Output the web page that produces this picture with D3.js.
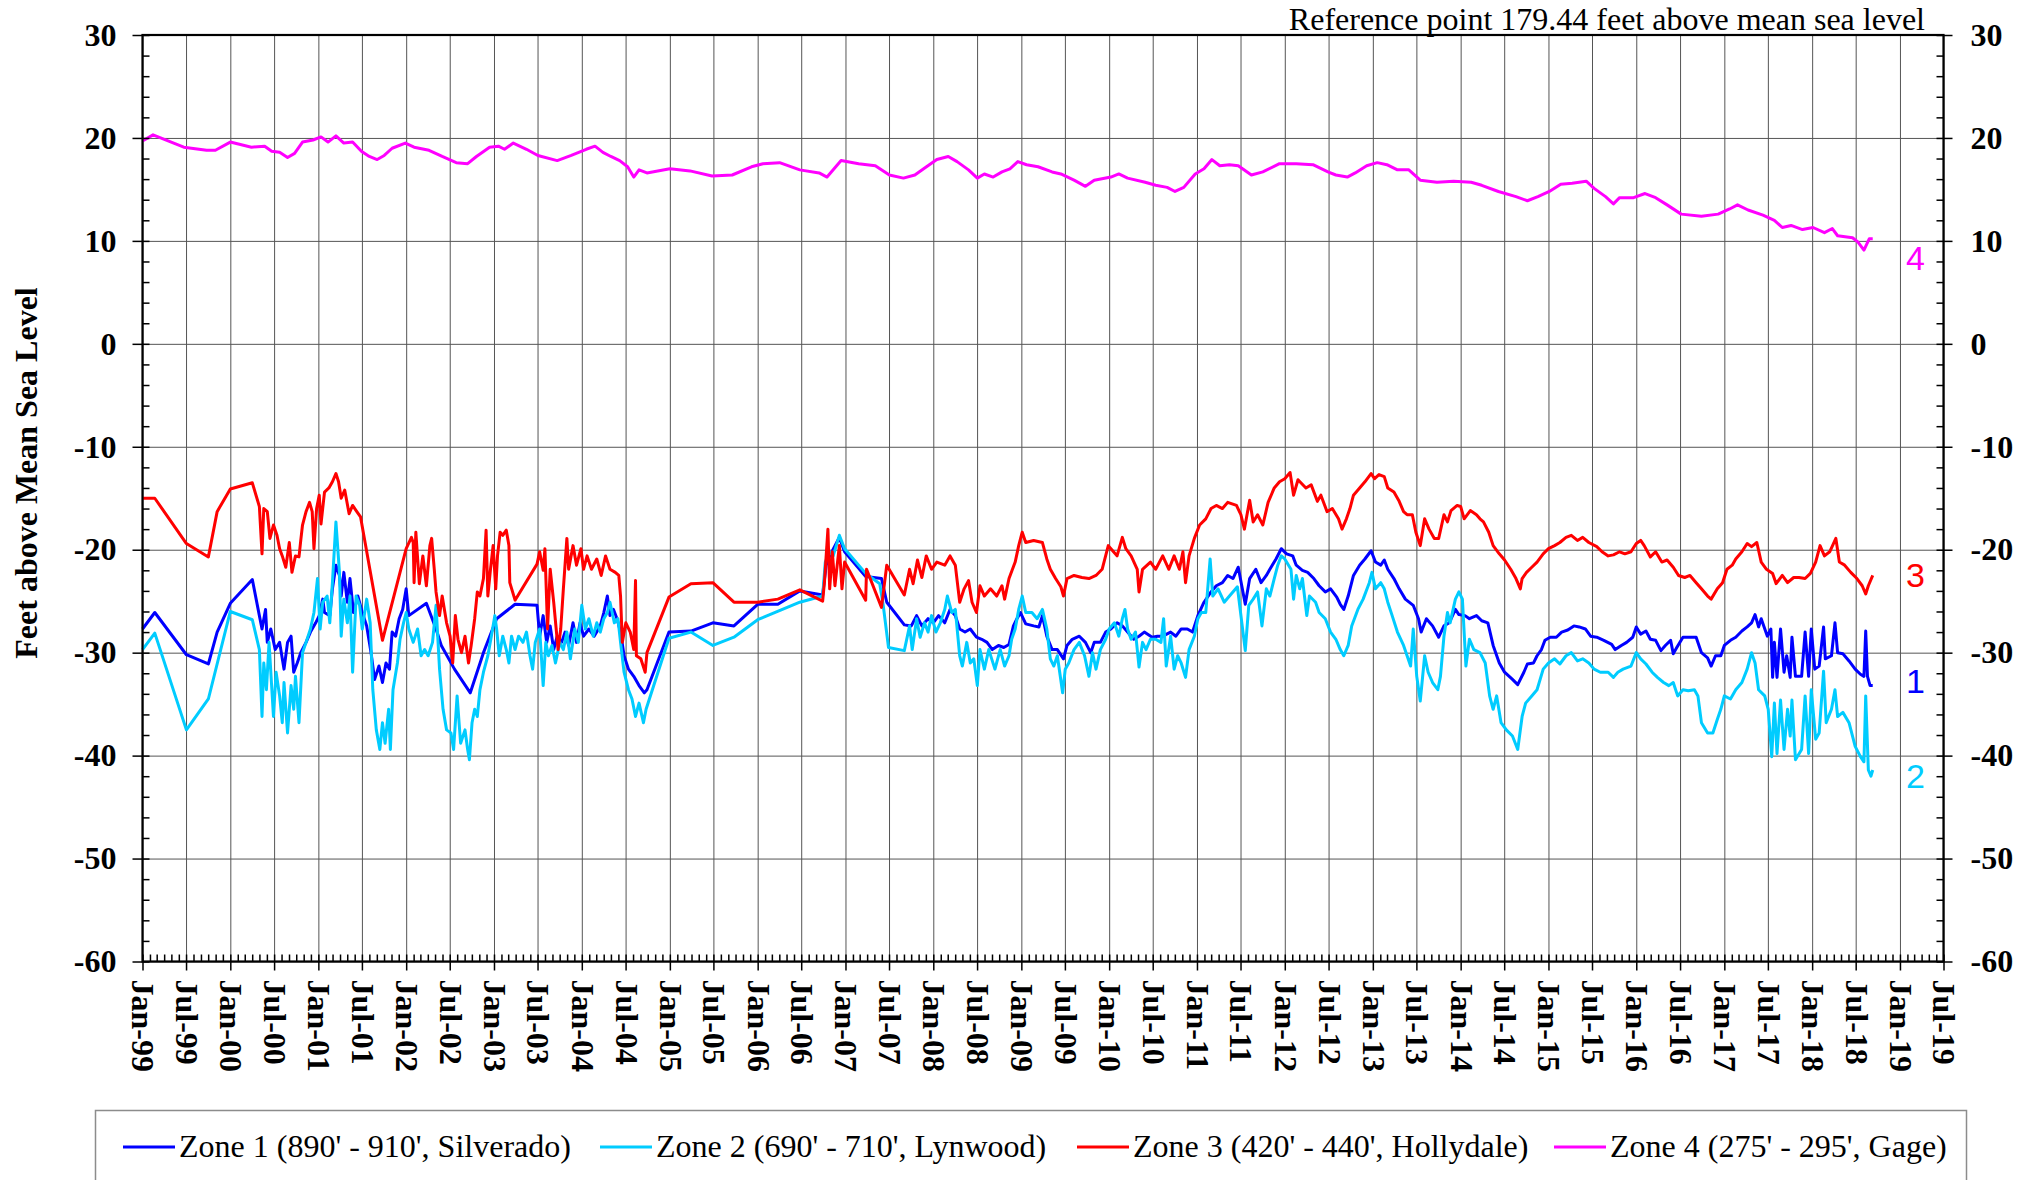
<!DOCTYPE html>
<html>
<head>
<meta charset="utf-8">
<script src="https://cdn.jsdelivr.net/npm/d3@7"></script>
<style>
  html, body { margin: 0; padding: 0; background: #fff; }
  svg { display: block; font-family: "Liberation Serif", "Times New Roman", serif; }
</style>
</head>
<body>
<svg id="chart" width="2034" height="1180"></svg>
<script>
/* Groundwater elevation hydrograph, four aquifer zones (1999 - 2018)
   values: [decimal year, feet above MSL] */

const zone1 = [
  [1999.0,-27.7],[1999.14,-26.1],[1999.5,-30.2],[1999.75,-31.1],[1999.85,-28.0],[2000.0,-25.2],[2000.25,-22.9],
  [2000.33,-26.4],[2000.36,-27.7],[2000.4,-25.8],[2000.42,-29.0],[2000.46,-27.7],[2000.51,-29.7],[2000.56,-29.0],
  [2000.61,-31.6],[2000.65,-29.0],[2000.69,-28.4],[2000.72,-31.9],[2000.76,-31.0],[2000.8,-30.0],[2000.86,-29.0],
  [2000.91,-28.0],[2000.97,-27.1],[2001.01,-26.4],[2001.05,-24.8],[2001.07,-26.1],[2001.13,-26.4],[2001.16,-23.8],
  [2001.2,-21.5],[2001.24,-22.5],[2001.26,-24.5],[2001.29,-22.2],[2001.33,-25.1],[2001.36,-22.8],[2001.4,-26.1],
  [2001.45,-24.5],[2001.5,-26.1],[2001.55,-27.4],[2001.6,-30.0],[2001.64,-32.6],[2001.69,-31.3],[2001.73,-32.9],
  [2001.77,-31.0],[2001.81,-31.6],[2001.84,-28.0],[2001.88,-28.4],[2001.92,-26.7],[2001.96,-25.8],[2002.0,-23.8],
  [2002.03,-26.4],[2002.23,-25.2],[2002.34,-27.7],[2002.4,-29.3],[2002.55,-31.6],[2002.73,-33.9],[2002.88,-30.0],
  [2003.03,-26.7],[2003.24,-25.3],[2003.49,-25.4],[2003.52,-28.4],[2003.56,-26.4],[2003.6,-29.0],[2003.64,-27.4],
  [2003.68,-29.7],[2003.72,-28.4],[2003.77,-29.0],[2003.81,-28.0],[2003.85,-29.3],[2003.9,-27.1],[2003.94,-29.0],
  [2003.98,-27.1],[2004.02,-28.4],[2004.08,-27.7],[2004.14,-28.4],[2004.21,-27.4],[2004.25,-26.1],[2004.29,-24.5],
  [2004.32,-26.4],[2004.36,-25.8],[2004.4,-26.7],[2004.44,-28.0],[2004.48,-30.3],[2004.53,-31.6],[2004.59,-32.3],
  [2004.65,-33.2],[2004.71,-33.9],[2004.74,-33.6],[2004.99,-28.0],[2005.24,-27.9],[2005.49,-27.1],[2005.73,-27.4],
  [2006.0,-25.3],[2006.23,-25.3],[2006.48,-24.0],[2006.74,-24.4],[2006.78,-21.5],[2006.82,-20.6],[2006.93,-18.8],
  [2006.99,-20.2],[2007.23,-22.6],[2007.41,-22.8],[2007.47,-25.1],[2007.67,-27.3],[2007.75,-27.4],[2007.81,-26.4],
  [2007.87,-27.4],[2007.94,-26.7],[2008.0,-27.1],[2008.06,-26.4],[2008.13,-27.1],[2008.19,-25.8],[2008.25,-26.4],
  [2008.3,-27.7],[2008.36,-28.0],[2008.42,-27.7],[2008.49,-28.5],[2008.55,-28.7],[2008.61,-29.0],[2008.67,-29.7],
  [2008.74,-29.3],[2008.8,-29.5],[2008.86,-29.2],[2008.91,-27.4],[2008.95,-26.7],[2008.99,-26.1],[2009.05,-27.2],
  [2009.14,-27.4],[2009.2,-27.5],[2009.24,-26.4],[2009.29,-28.4],[2009.35,-29.7],[2009.41,-29.7],[2009.48,-30.6],
  [2009.52,-29.3],[2009.58,-28.7],[2009.66,-28.4],[2009.73,-29.0],[2009.79,-30.0],[2009.83,-29.0],[2009.9,-29.0],
  [2009.96,-28.0],[2010.02,-27.7],[2010.09,-27.1],[2010.15,-27.4],[2010.21,-28.0],[2010.28,-28.7],[2010.34,-28.4],
  [2010.4,-28.0],[2010.49,-28.5],[2010.55,-28.4],[2010.61,-28.4],[2010.7,-28.0],[2010.76,-28.4],[2010.82,-27.7],
  [2010.89,-27.7],[2010.95,-28.0],[2011.01,-26.4],[2011.08,-25.1],[2011.16,-24.1],[2011.22,-23.5],[2011.29,-23.2],
  [2011.35,-22.5],[2011.41,-22.8],[2011.47,-21.7],[2011.55,-25.3],[2011.6,-22.8],[2011.67,-21.9],[2011.73,-23.2],
  [2011.79,-22.5],[2011.83,-21.9],[2011.9,-20.9],[2011.96,-19.9],[2012.02,-20.4],[2012.09,-20.6],[2012.13,-21.5],
  [2012.2,-22.0],[2012.26,-22.2],[2012.33,-22.8],[2012.39,-23.5],[2012.46,-24.1],[2012.52,-23.8],[2012.59,-24.6],
  [2012.63,-25.3],[2012.67,-25.8],[2012.72,-24.5],[2012.78,-22.5],[2012.85,-21.5],[2012.91,-20.9],[2012.98,-20.1],
  [2013.03,-21.2],[2013.09,-21.5],[2013.13,-21.0],[2013.17,-21.9],[2013.24,-22.8],[2013.3,-23.8],[2013.37,-24.8],
  [2013.46,-25.4],[2013.52,-26.7],[2013.55,-28.0],[2013.61,-26.7],[2013.68,-27.4],[2013.75,-28.5],[2013.81,-27.4],
  [2013.87,-27.1],[2013.94,-25.8],[2013.98,-26.3],[2014.05,-26.4],[2014.1,-26.7],[2014.18,-26.4],[2014.24,-26.9],
  [2014.31,-27.1],[2014.37,-29.3],[2014.44,-31.0],[2014.5,-31.9],[2014.59,-32.6],[2014.65,-33.1],[2014.72,-31.9],
  [2014.76,-31.1],[2014.83,-31.0],[2014.87,-30.3],[2014.92,-29.7],[2014.96,-28.8],[2015.02,-28.5],[2015.09,-28.5],
  [2015.15,-28.0],[2015.22,-27.8],[2015.29,-27.4],[2015.35,-27.5],[2015.42,-27.7],[2015.48,-28.4],[2015.55,-28.5],
  [2015.63,-28.8],[2015.72,-29.2],[2015.76,-29.7],[2015.83,-29.3],[2015.89,-29.0],[2015.96,-28.5],[2016.0,-27.5],
  [2016.05,-28.2],[2016.11,-27.9],[2016.16,-28.7],[2016.22,-28.8],[2016.28,-29.8],[2016.33,-29.3],[2016.39,-28.8],
  [2016.42,-30.1],[2016.46,-29.5],[2016.53,-28.5],[2016.61,-28.5],[2016.68,-28.5],[2016.74,-30.0],[2016.81,-30.5],
  [2016.85,-31.3],[2016.9,-30.3],[2016.96,-30.3],[2017.0,-29.3],[2017.07,-28.8],[2017.13,-28.5],[2017.2,-27.9],
  [2017.26,-27.5],[2017.31,-27.1],[2017.35,-26.3],[2017.39,-27.5],[2017.42,-26.7],[2017.49,-28.4],[2017.53,-27.7],
  [2017.55,-32.4],[2017.57,-29.0],[2017.6,-32.4],[2017.64,-27.7],[2017.68,-31.9],[2017.71,-30.3],[2017.75,-32.4],
  [2017.77,-28.5],[2017.81,-32.3],[2017.88,-32.3],[2017.92,-28.0],[2017.96,-32.3],[2017.99,-27.7],[2018.03,-31.6],
  [2018.08,-31.3],[2018.13,-27.5],[2018.15,-30.6],[2018.22,-30.3],[2018.26,-27.1],[2018.29,-30.0],[2018.35,-30.1],
  [2018.42,-30.8],[2018.49,-31.6],[2018.55,-32.1],[2018.59,-32.3],[2018.61,-27.9],[2018.63,-32.3],[2018.66,-33.2],
  [2018.69,-33.2]
];

const zone2 = [
  [1999.0,-29.7],[1999.14,-28.1],[1999.5,-37.5],[1999.75,-34.5],[2000.0,-26.0],[2000.25,-26.8],[2000.33,-29.7],
  [2000.36,-36.2],[2000.38,-31.0],[2000.41,-33.6],[2000.44,-29.0],[2000.49,-36.2],[2000.52,-31.9],[2000.56,-34.2],
  [2000.59,-36.8],[2000.61,-32.9],[2000.65,-37.8],[2000.69,-33.2],[2000.72,-35.5],[2000.74,-32.3],[2000.78,-36.8],
  [2000.82,-30.0],[2000.86,-29.0],[2000.91,-27.7],[2000.95,-26.1],[2000.99,-22.8],[2001.02,-27.7],[2001.05,-25.1],
  [2001.1,-24.5],[2001.13,-27.1],[2001.16,-23.2],[2001.2,-17.3],[2001.24,-22.2],[2001.26,-28.4],[2001.29,-24.8],
  [2001.33,-27.1],[2001.36,-24.5],[2001.39,-31.9],[2001.43,-24.5],[2001.47,-25.4],[2001.5,-27.7],[2001.55,-24.8],
  [2001.59,-27.1],[2001.62,-33.6],[2001.66,-37.5],[2001.7,-39.4],[2001.73,-36.8],[2001.76,-38.8],[2001.8,-35.5],
  [2001.82,-39.4],[2001.85,-33.6],[2001.9,-31.0],[2001.93,-28.7],[2001.97,-27.1],[2002.0,-26.1],[2002.03,-27.7],
  [2002.08,-29.0],[2002.13,-27.7],[2002.17,-30.3],[2002.21,-29.7],[2002.25,-30.3],[2002.3,-29.0],[2002.34,-25.4],
  [2002.38,-31.6],[2002.42,-35.5],[2002.46,-37.5],[2002.51,-37.8],[2002.54,-39.4],[2002.58,-34.2],[2002.62,-38.8],
  [2002.67,-37.5],[2002.7,-39.4],[2002.72,-40.4],[2002.75,-36.8],[2002.78,-35.5],[2002.81,-36.2],[2002.84,-33.6],
  [2002.88,-31.9],[2002.93,-30.3],[2002.97,-28.4],[2003.01,-26.4],[2003.03,-27.7],[2003.06,-30.3],[2003.1,-28.4],
  [2003.14,-29.7],[2003.17,-31.0],[2003.2,-28.4],[2003.24,-29.7],[2003.28,-28.4],[2003.33,-29.0],[2003.37,-28.0],
  [2003.41,-30.3],[2003.44,-31.6],[2003.47,-29.0],[2003.52,-27.7],[2003.56,-33.2],[2003.59,-29.0],[2003.62,-30.3],
  [2003.66,-29.3],[2003.7,-31.0],[2003.75,-29.0],[2003.79,-29.7],[2003.83,-28.0],[2003.87,-30.6],[2003.92,-27.7],
  [2003.96,-29.0],[2004.0,-25.4],[2004.04,-27.7],[2004.08,-26.7],[2004.13,-28.4],[2004.17,-27.1],[2004.21,-28.0],
  [2004.25,-26.7],[2004.29,-26.1],[2004.32,-25.1],[2004.37,-27.1],[2004.41,-26.7],[2004.44,-29.0],[2004.48,-31.9],
  [2004.53,-33.6],[2004.57,-34.5],[2004.61,-36.2],[2004.65,-34.9],[2004.7,-36.8],[2004.73,-35.5],[2004.99,-28.6],
  [2005.24,-28.0],[2005.49,-29.3],[2005.73,-28.5],[2006.0,-26.8],[2006.48,-25.1],[2006.74,-24.5],[2006.77,-21.2],
  [2006.82,-20.2],[2006.86,-20.6],[2006.93,-18.6],[2006.99,-19.9],[2007.23,-22.3],[2007.39,-23.3],[2007.43,-25.4],
  [2007.49,-29.5],[2007.67,-29.8],[2007.73,-27.4],[2007.76,-29.7],[2007.81,-26.7],[2007.85,-28.5],[2007.9,-27.1],
  [2007.94,-28.0],[2007.98,-26.4],[2008.03,-28.0],[2008.08,-27.1],[2008.13,-25.8],[2008.16,-24.5],[2008.21,-26.1],
  [2008.25,-25.8],[2008.3,-30.3],[2008.33,-31.3],[2008.38,-29.0],[2008.42,-31.0],[2008.46,-30.6],[2008.5,-33.2],
  [2008.53,-29.7],[2008.58,-31.6],[2008.63,-29.7],[2008.7,-31.6],[2008.76,-29.7],[2008.81,-31.3],[2008.86,-30.3],
  [2008.89,-28.7],[2008.93,-27.7],[2008.97,-25.8],[2009.01,-24.5],[2009.05,-26.1],[2009.12,-26.1],[2009.18,-26.7],
  [2009.24,-25.8],[2009.29,-27.7],[2009.33,-30.6],[2009.37,-31.3],[2009.41,-30.3],[2009.47,-33.9],[2009.5,-31.6],
  [2009.54,-31.0],[2009.6,-29.7],[2009.66,-29.0],[2009.72,-30.3],[2009.77,-32.3],[2009.81,-30.0],[2009.85,-31.6],
  [2009.9,-29.7],[2009.96,-28.7],[2010.0,-27.7],[2010.06,-27.1],[2010.11,-28.4],[2010.15,-26.7],[2010.18,-25.8],
  [2010.21,-27.7],[2010.25,-28.7],[2010.3,-28.0],[2010.34,-31.4],[2010.38,-29.0],[2010.42,-29.7],[2010.47,-28.7],
  [2010.53,-28.7],[2010.59,-29.0],[2010.62,-26.7],[2010.65,-31.3],[2010.7,-28.4],[2010.74,-31.6],[2010.78,-30.3],
  [2010.82,-31.0],[2010.87,-32.4],[2010.91,-29.7],[2010.97,-28.4],[2011.01,-26.7],[2011.05,-26.1],[2011.1,-26.1],
  [2011.15,-20.9],[2011.18,-24.5],[2011.24,-23.8],[2011.31,-25.1],[2011.37,-24.5],[2011.46,-23.6],[2011.55,-29.8],
  [2011.59,-25.4],[2011.64,-24.8],[2011.69,-24.1],[2011.74,-27.4],[2011.79,-23.8],[2011.83,-24.5],[2011.88,-22.8],
  [2011.92,-21.5],[2011.96,-20.6],[2012.0,-20.9],[2012.07,-21.9],[2012.1,-24.8],[2012.13,-22.5],[2012.17,-23.8],
  [2012.2,-22.8],[2012.25,-26.4],[2012.28,-24.5],[2012.35,-25.1],[2012.39,-26.1],[2012.46,-26.7],[2012.52,-28.0],
  [2012.58,-28.7],[2012.63,-29.7],[2012.67,-30.3],[2012.72,-29.3],[2012.76,-27.4],[2012.83,-25.8],[2012.89,-24.8],
  [2012.96,-23.2],[2012.99,-22.2],[2013.03,-23.8],[2013.09,-23.2],[2013.13,-23.8],[2013.17,-25.1],[2013.22,-26.4],
  [2013.28,-28.0],[2013.35,-29.3],[2013.39,-30.3],[2013.43,-31.3],[2013.46,-27.7],[2013.5,-32.3],[2013.54,-34.7],
  [2013.59,-30.3],[2013.63,-31.9],[2013.68,-32.9],[2013.74,-33.6],[2013.77,-32.3],[2013.81,-28.4],[2013.85,-26.1],
  [2013.88,-27.1],[2013.94,-24.8],[2013.98,-24.1],[2014.02,-24.8],[2014.06,-31.3],[2014.1,-28.7],[2014.15,-29.7],
  [2014.22,-30.0],[2014.28,-31.0],[2014.33,-34.2],[2014.37,-35.5],[2014.41,-34.2],[2014.46,-36.8],[2014.52,-37.5],
  [2014.59,-38.1],[2014.65,-39.4],[2014.7,-36.2],[2014.74,-34.9],[2014.81,-34.2],[2014.87,-33.6],[2014.94,-31.6],
  [2015.0,-31.0],[2015.07,-30.6],[2015.13,-31.1],[2015.2,-30.3],[2015.26,-30.0],[2015.33,-30.8],[2015.39,-30.6],
  [2015.46,-31.0],[2015.52,-31.6],[2015.59,-31.9],[2015.68,-31.9],[2015.74,-32.4],[2015.79,-31.9],[2015.85,-31.6],
  [2015.94,-31.3],[2016.0,-30.0],[2016.05,-30.6],[2016.11,-31.1],[2016.18,-31.9],[2016.24,-32.4],[2016.31,-32.9],
  [2016.37,-33.2],[2016.42,-32.9],[2016.47,-34.2],[2016.53,-33.6],[2016.59,-33.7],[2016.66,-33.6],[2016.7,-34.2],
  [2016.74,-36.8],[2016.81,-37.8],[2016.87,-37.8],[2016.92,-36.5],[2016.96,-35.5],[2017.0,-34.2],[2017.07,-34.5],
  [2017.13,-33.6],[2017.2,-32.9],[2017.26,-31.6],[2017.31,-30.0],[2017.35,-31.0],[2017.39,-33.6],[2017.46,-34.2],
  [2017.5,-35.5],[2017.54,-40.1],[2017.57,-34.9],[2017.6,-39.8],[2017.64,-34.6],[2017.68,-39.4],[2017.72,-35.5],
  [2017.75,-38.1],[2017.77,-34.6],[2017.81,-40.4],[2017.88,-39.4],[2017.92,-34.2],[2017.96,-39.8],[2017.99,-33.6],
  [2018.04,-38.4],[2018.08,-37.8],[2018.13,-31.8],[2018.16,-36.8],[2018.22,-35.5],[2018.26,-33.6],[2018.29,-36.2],
  [2018.35,-35.8],[2018.42,-36.8],[2018.49,-39.1],[2018.55,-40.1],[2018.59,-40.6],[2018.61,-34.2],[2018.64,-41.4],
  [2018.67,-42.0],[2018.69,-41.4]
];

const zone3 = [
  [1999.0,-15.0],[1999.14,-15.0],[1999.5,-19.4],[1999.75,-20.7],[1999.85,-16.3],[2000.0,-14.1],[2000.25,-13.5],
  [2000.33,-15.8],[2000.36,-20.4],[2000.38,-16.0],[2000.42,-16.3],[2000.45,-18.9],[2000.49,-17.6],[2000.53,-18.6],
  [2000.56,-19.9],[2000.59,-20.6],[2000.63,-21.7],[2000.67,-19.3],[2000.7,-22.2],[2000.74,-20.6],[2000.78,-20.7],
  [2000.8,-19.1],[2000.82,-17.6],[2000.86,-16.3],[2000.9,-15.4],[2000.93,-16.3],[2000.95,-19.9],[2000.98,-16.0],
  [2001.01,-14.7],[2001.03,-17.5],[2001.07,-14.4],[2001.12,-14.0],[2001.16,-13.4],[2001.2,-12.6],[2001.23,-13.4],
  [2001.26,-15.0],[2001.3,-14.2],[2001.35,-16.5],[2001.39,-15.7],[2001.43,-16.2],[2001.48,-16.8],[2001.73,-28.8],
  [2002.0,-19.9],[2002.06,-18.8],[2002.08,-19.3],[2002.09,-23.2],[2002.11,-18.3],[2002.15,-23.3],[2002.19,-20.6],
  [2002.23,-23.5],[2002.27,-19.6],[2002.29,-18.9],[2002.32,-21.9],[2002.34,-24.1],[2002.38,-26.4],[2002.41,-24.5],
  [2002.46,-27.1],[2002.5,-28.4],[2002.53,-31.0],[2002.56,-26.4],[2002.59,-28.7],[2002.63,-30.0],[2002.67,-28.4],
  [2002.71,-31.0],[2002.74,-29.3],[2002.78,-26.7],[2002.81,-24.1],[2002.84,-24.5],[2002.88,-22.8],[2002.91,-18.1],
  [2002.93,-24.5],[2002.96,-21.9],[2002.99,-19.6],[2003.02,-23.8],[2003.04,-20.6],[2003.07,-18.3],[2003.1,-18.6],
  [2003.14,-18.1],[2003.17,-19.6],[2003.18,-23.2],[2003.24,-24.9],[2003.49,-21.4],[2003.52,-20.2],[2003.56,-22.0],
  [2003.58,-19.9],[2003.61,-27.7],[2003.64,-21.9],[2003.68,-25.1],[2003.73,-29.7],[2003.76,-27.7],[2003.79,-23.8],
  [2003.83,-18.9],[2003.85,-21.9],[2003.9,-19.6],[2003.94,-21.5],[2003.99,-19.9],[2004.02,-21.9],[2004.06,-20.6],
  [2004.11,-21.9],[2004.17,-20.9],[2004.22,-22.5],[2004.27,-20.6],[2004.32,-21.9],[2004.38,-22.2],[2004.42,-22.5],
  [2004.44,-24.5],[2004.46,-29.0],[2004.5,-27.1],[2004.55,-28.0],[2004.59,-29.7],[2004.61,-23.0],[2004.62,-30.3],
  [2004.67,-30.6],[2004.72,-31.9],[2004.74,-30.0],[2004.99,-24.6],[2005.24,-23.3],[2005.49,-23.2],[2005.73,-25.1],
  [2006.0,-25.1],[2006.23,-24.8],[2006.48,-23.9],[2006.74,-25.0],[2006.76,-23.2],[2006.8,-18.0],[2006.82,-23.8],
  [2006.85,-20.2],[2006.88,-23.5],[2006.93,-19.6],[2006.96,-23.8],[2006.99,-21.2],[2007.23,-24.9],[2007.24,-21.9],
  [2007.41,-25.6],[2007.47,-21.5],[2007.67,-24.4],[2007.73,-21.9],[2007.77,-23.3],[2007.82,-21.0],[2007.87,-22.7],
  [2007.92,-20.6],[2007.98,-21.9],[2008.04,-21.2],[2008.13,-21.5],[2008.19,-20.6],[2008.25,-21.5],[2008.3,-25.1],
  [2008.35,-23.8],[2008.4,-23.0],[2008.44,-25.1],[2008.49,-26.1],[2008.53,-23.5],[2008.58,-24.5],[2008.65,-23.8],
  [2008.72,-24.5],[2008.78,-23.5],[2008.81,-24.8],[2008.86,-22.8],[2008.93,-21.2],[2008.97,-19.6],[2009.01,-18.3],
  [2009.05,-19.3],[2009.14,-19.1],[2009.24,-19.3],[2009.29,-20.9],[2009.33,-21.9],[2009.39,-22.8],[2009.45,-23.6],
  [2009.48,-24.5],[2009.52,-22.8],[2009.6,-22.5],[2009.69,-22.7],[2009.77,-22.8],[2009.85,-22.5],[2009.92,-21.9],
  [2009.99,-19.6],[2010.04,-20.1],[2010.09,-20.6],[2010.15,-18.8],[2010.19,-19.9],[2010.25,-20.6],[2010.32,-21.9],
  [2010.34,-24.1],[2010.38,-21.9],[2010.47,-21.2],[2010.53,-21.9],[2010.61,-20.6],[2010.68,-21.9],[2010.74,-20.6],
  [2010.8,-21.9],[2010.84,-20.2],[2010.87,-23.2],[2010.91,-20.6],[2010.97,-18.9],[2011.03,-17.6],[2011.1,-17.0],
  [2011.16,-16.0],[2011.22,-15.7],[2011.29,-16.0],[2011.35,-15.4],[2011.45,-15.7],[2011.5,-16.6],[2011.54,-18.0],
  [2011.6,-15.2],[2011.64,-17.3],[2011.69,-16.6],[2011.75,-17.6],[2011.81,-15.4],[2011.88,-14.0],[2011.94,-13.4],
  [2012.0,-13.1],[2012.06,-12.5],[2012.1,-14.7],[2012.15,-13.2],[2012.24,-14.0],[2012.3,-13.7],[2012.37,-15.3],
  [2012.41,-14.7],[2012.48,-16.3],[2012.54,-16.0],[2012.61,-17.0],[2012.65,-18.0],[2012.7,-17.0],[2012.74,-16.0],
  [2012.78,-14.7],[2012.85,-14.0],[2012.91,-13.4],[2012.98,-12.6],[2013.02,-13.1],[2013.07,-12.7],[2013.13,-12.9],
  [2013.17,-14.0],[2013.24,-14.4],[2013.3,-15.3],[2013.35,-16.3],[2013.39,-16.6],[2013.45,-16.6],[2013.49,-18.3],
  [2013.54,-19.6],[2013.59,-17.0],[2013.64,-18.0],[2013.7,-18.9],[2013.75,-18.9],[2013.81,-16.6],[2013.85,-17.3],
  [2013.89,-16.2],[2013.96,-15.7],[2014.0,-15.8],[2014.04,-17.0],[2014.11,-16.2],[2014.18,-16.6],[2014.22,-17.0],
  [2014.26,-17.3],[2014.32,-18.3],[2014.37,-19.6],[2014.44,-20.4],[2014.5,-21.0],[2014.57,-21.9],[2014.63,-22.8],
  [2014.68,-23.8],[2014.7,-22.8],[2014.75,-22.2],[2014.81,-21.7],[2014.87,-21.2],[2014.94,-20.4],[2015.0,-19.9],
  [2015.07,-19.6],[2015.13,-19.3],[2015.2,-18.8],[2015.26,-18.6],[2015.33,-19.1],[2015.39,-18.8],[2015.46,-19.3],
  [2015.55,-19.7],[2015.61,-20.2],[2015.68,-20.6],[2015.74,-20.5],[2015.81,-20.2],[2015.87,-20.4],[2015.94,-20.2],
  [2016.0,-19.4],[2016.05,-19.1],[2016.09,-19.6],[2016.16,-20.7],[2016.22,-20.2],[2016.29,-21.2],[2016.35,-21.0],
  [2016.42,-21.7],[2016.48,-22.5],[2016.55,-22.7],[2016.61,-22.5],[2016.68,-23.2],[2016.74,-23.8],[2016.81,-24.5],
  [2016.85,-24.8],[2016.92,-23.8],[2016.98,-23.2],[2017.03,-21.9],[2017.09,-21.5],[2017.13,-20.9],[2017.2,-20.2],
  [2017.26,-19.4],[2017.31,-19.7],[2017.37,-19.3],[2017.42,-21.2],[2017.48,-21.9],[2017.55,-22.3],[2017.59,-23.3],
  [2017.66,-22.5],[2017.72,-23.2],[2017.79,-22.7],[2017.85,-22.7],[2017.92,-22.8],[2017.98,-22.3],[2018.04,-21.2],
  [2018.09,-19.6],[2018.14,-20.6],[2018.2,-20.2],[2018.27,-18.9],[2018.31,-21.2],[2018.37,-21.5],[2018.44,-22.2],
  [2018.51,-22.8],[2018.57,-23.5],[2018.61,-24.3],[2018.64,-23.5],[2018.69,-22.5]
];

const zone4 = [
  [1999.0,19.7],[1999.12,20.3],[1999.47,19.1],[1999.73,18.8],[1999.83,18.8],[2000.0,19.6],[2000.24,19.1],
  [2000.39,19.2],[2000.47,18.7],[2000.56,18.6],[2000.65,18.1],[2000.73,18.5],[2000.82,19.6],[2000.94,19.8],
  [2001.03,20.1],[2001.11,19.6],[2001.2,20.2],[2001.29,19.5],[2001.39,19.6],[2001.49,18.7],[2001.58,18.2],
  [2001.67,17.9],[2001.75,18.3],[2001.84,19.0],[2001.99,19.5],[2002.09,19.1],[2002.26,18.8],[2002.41,18.2],
  [2002.57,17.6],[2002.7,17.5],[2002.8,18.2],[2002.95,19.1],[2003.05,19.2],[2003.12,18.9],[2003.22,19.5],
  [2003.37,18.9],[2003.5,18.3],[2003.72,17.8],[2003.88,18.3],[2004.05,18.9],[2004.15,19.2],[2004.24,18.6],
  [2004.33,18.2],[2004.43,17.8],[2004.52,17.2],[2004.59,16.2],[2004.65,16.9],[2004.74,16.6],[2005.0,17.0],
  [2005.23,16.8],[2005.48,16.3],[2005.71,16.4],[2005.93,17.2],[2006.06,17.5],[2006.25,17.6],[2006.48,16.9],
  [2006.7,16.6],[2006.79,16.2],[2006.95,17.8],[2007.15,17.5],[2007.34,17.3],[2007.5,16.4],[2007.66,16.1],
  [2007.79,16.4],[2007.89,17.0],[2008.04,17.9],[2008.17,18.2],[2008.27,17.7],[2008.4,16.9],[2008.5,16.1],
  [2008.58,16.5],[2008.68,16.2],[2008.78,16.7],[2008.87,17.0],[2008.96,17.7],[2009.06,17.4],[2009.19,17.2],
  [2009.35,16.7],[2009.45,16.5],[2009.6,15.9],[2009.73,15.3],[2009.83,15.9],[2010.02,16.2],[2010.11,16.5],
  [2010.21,16.1],[2010.41,15.7],[2010.53,15.4],[2010.66,15.2],[2010.75,14.8],[2010.85,15.2],[2010.98,16.5],
  [2011.08,17.0],[2011.17,17.9],[2011.26,17.3],[2011.37,17.4],[2011.47,17.3],[2011.62,16.4],[2011.75,16.7],
  [2011.94,17.5],[2012.13,17.5],[2012.32,17.4],[2012.49,16.7],[2012.58,16.4],[2012.71,16.2],[2012.8,16.6],
  [2012.93,17.3],[2013.05,17.6],[2013.16,17.4],[2013.28,16.9],[2013.41,16.9],[2013.54,15.9],[2013.73,15.7],
  [2013.92,15.8],[2014.12,15.7],[2014.24,15.4],[2014.43,14.8],[2014.63,14.3],[2014.76,13.9],[2014.88,14.3],
  [2015.01,14.8],[2015.14,15.5],[2015.27,15.6],[2015.43,15.8],[2015.52,15.1],[2015.65,14.3],[2015.74,13.6],
  [2015.81,14.2],[2015.97,14.2],[2016.1,14.6],[2016.22,14.2],[2016.35,13.5],[2016.51,12.6],[2016.74,12.4],
  [2016.93,12.6],[2017.06,13.1],[2017.15,13.5],[2017.27,13.0],[2017.44,12.5],[2017.57,12.0],[2017.66,11.3],
  [2017.76,11.5],[2017.89,11.1],[2018.01,11.3],[2018.14,10.8],[2018.23,11.2],[2018.29,10.5],[2018.46,10.3],
  [2018.52,9.9],[2018.59,9.1],[2018.65,10.2],[2018.69,10.2]
];

const seriesData   = [zone1, zone2, zone3, zone4];
const seriesNames  = ["Zone 1 (890' - 910', Silverado)", "Zone 2 (690' - 710', Lynwood)",
                      "Zone 3 (420' - 440', Hollydale)", "Zone 4 (275' - 295', Gage)"];
const seriesTags   = ["1", "2", "3", "4"];
const seriesColors = ["#0000FF", "#00CCFF", "#FF0000", "#FF00FF"];
const tagValues    = [-32.7, -42.0, -22.4, 8.4];   // where the zone number sits on the y scale
const yTickValues  = [-60, -50, -40, -30, -20, -10, 0, 10, 20, 30];
const yMinorValues = d3.range(-60, 31, 2);
const xStart = new Date(1999, 0, 1), xEnd = new Date(2019, 6, 1);

// ── layout ──────────────────────────────────────────
const m = { left: 142.5, right: 1943.5, top: 35, bottom: 961.5 };
const serif = '"Liberation Serif", "Times New Roman", serif';
const sans  = '"Liberation Sans", Arial, sans-serif';

const svg = d3.select('#chart');

const x = d3.scaleTime().domain([xStart, xEnd]).range([m.left, m.right]);
const y = d3.scaleLinear().domain([-60, 30]).range([m.bottom, m.top]);

// decimal year -> Date
function toDate(t) {
  const yr = Math.floor(t);
  const a = new Date(yr, 0, 1), b = new Date(yr + 1, 0, 1);
  return new Date(+a + (t - yr) * (b - a));
}

const halfYears = x.ticks(d3.timeMonth.every(6));
const months    = x.ticks(d3.timeMonth.every(1));

// ── gridlines ───────────────────────────────────────
svg.append('g')
  .attr('transform', `translate(0,${m.bottom})`)
  .call(d3.axisBottom(x).tickValues(halfYears).tickSize(-(m.bottom - m.top)).tickFormat(''))
  .call(g => g.select('.domain').remove())
  .selectAll('line').attr('stroke', '#555').attr('stroke-width', 1);

svg.append('g')
  .attr('transform', `translate(${m.left},0)`)
  .call(d3.axisLeft(y).tickValues(yTickValues).tickSize(-(m.right - m.left)).tickFormat(''))
  .call(g => g.select('.domain').remove())
  .selectAll('line').attr('stroke', '#555').attr('stroke-width', 1);

// ── series lines ────────────────────────────────────
const line = d3.line()
  .x(d => x(toDate(d[0])))
  .y(d => y(d[1]));

seriesData.forEach((s, i) => {
  svg.append('path')
    .datum(s)
    .attr('d', line)
    .attr('fill', 'none')
    .attr('stroke', seriesColors[i])
    .attr('stroke-width', 3)
    .attr('stroke-linejoin', 'round');
});

// ── axes ────────────────────────────────────────────
function styleAxis(g) {
  g.select('.domain').remove();
  g.attr('font-family', serif).attr('font-size', 32).attr('font-weight', 'bold');
  g.selectAll('line').attr('stroke', '#000').attr('stroke-width', 1.5);
  g.selectAll('text').attr('fill', '#000');
}

// left
svg.append('g')
  .attr('transform', `translate(${m.left},0)`)
  .call(d3.axisLeft(y).tickValues(yTickValues).tickSize(10).tickPadding(16).tickFormat(d => String(d)))
  .call(styleAxis);
svg.append('g')
  .attr('transform', `translate(${m.left},0)`)
  .call(d3.axisLeft(y).tickValues(yMinorValues).tickSize(-7).tickFormat(''))
  .call(styleAxis);

// right
svg.append('g')
  .attr('transform', `translate(${m.right},0)`)
  .call(d3.axisRight(y).tickValues(yTickValues).tickSize(9).tickPadding(18).tickFormat(d => String(d)))
  .call(styleAxis);
svg.append('g')
  .attr('transform', `translate(${m.right},0)`)
  .call(d3.axisRight(y).tickValues(yMinorValues).tickSize(-7).tickFormat(''))
  .call(styleAxis);

// bottom
svg.append('g')
  .attr('transform', `translate(0,${m.bottom})`)
  .call(d3.axisBottom(x).tickValues(months).tickSize(-7).tickFormat(''))
  .call(styleAxis);
svg.append('g')
  .attr('transform', `translate(0,${m.bottom})`)
  .call(d3.axisBottom(x).tickValues(halfYears).tickSize(9).tickFormat(d3.timeFormat('%b-%y')))
  .call(styleAxis)
  .selectAll('text')
    .attr('transform', 'rotate(90)')
    .attr('x', 18)
    .attr('y', 0)
    .attr('dy', '0.33em')
    .attr('text-anchor', 'start');

// plot frame
svg.append('rect')
  .attr('x', m.left).attr('y', m.top)
  .attr('width', m.right - m.left).attr('height', m.bottom - m.top)
  .attr('fill', 'none').attr('stroke', '#000').attr('stroke-width', 2.2);

// ── texts ───────────────────────────────────────────
svg.append('text')
  .attr('transform', `translate(37,473) rotate(-90)`)
  .attr('text-anchor', 'middle')
  .attr('font-family', serif).attr('font-size', 32).attr('font-weight', 'bold')
  .text('Feet above Mean Sea Level');

svg.append('text')
  .attr('x', 1925).attr('y', 30)
  .attr('text-anchor', 'end')
  .attr('font-family', serif).attr('font-size', 32)
  .text('Reference point 179.44 feet above mean sea level');

// zone number tags at the right end of each line
seriesTags.forEach((t, i) => {
  svg.append('text')
    .attr('x', 1915.5)
    .attr('y', y(tagValues[i]))
    .attr('dy', '0.36em')
    .attr('text-anchor', 'middle')
    .attr('font-family', sans).attr('font-size', 34)
    .attr('fill', seriesColors[i])
    .text(t);
});

// ── legend ──────────────────────────────────────────
const legendX = [123, 600, 1077, 1554];
const legendY = 1147;

svg.append('rect')
  .attr('x', 95.5).attr('y', 1110.5)
  .attr('width', 1871).attr('height', 120)
  .attr('fill', '#fff').attr('stroke', '#8c8c8c').attr('stroke-width', 1.5);

const lg = svg.append('g').attr('font-family', serif).attr('font-size', 32);
seriesNames.forEach((name, i) => {
  lg.append('line')
    .attr('x1', legendX[i]).attr('x2', legendX[i] + 52)
    .attr('y1', legendY).attr('y2', legendY)
    .attr('stroke', seriesColors[i]).attr('stroke-width', 3);
  lg.append('text')
    .attr('x', legendX[i] + 56).attr('y', legendY + 10)
    .text(name);
});
</script>
</body>
</html>
